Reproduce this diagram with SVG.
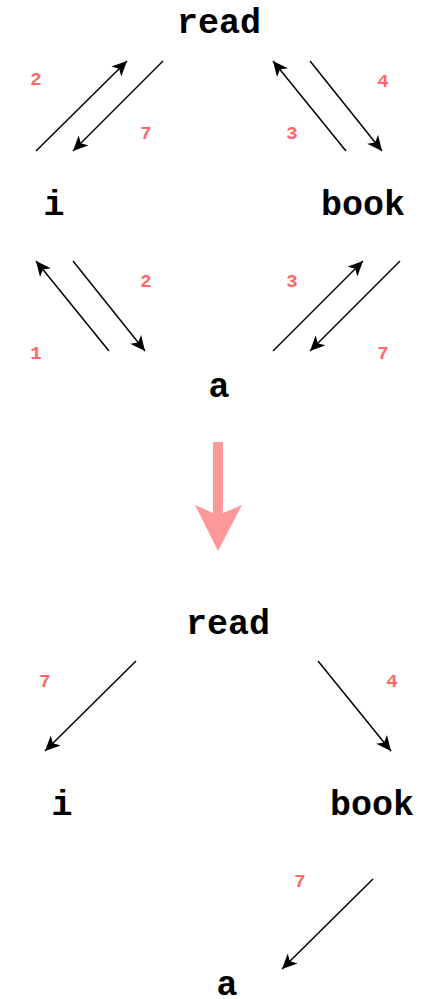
<svg xmlns="http://www.w3.org/2000/svg" width="422" height="999" viewBox="0 0 422 999">
<style>
.n{font-family:"Liberation Mono","Courier New",monospace;font-weight:bold;font-size:35px;fill:#000;text-anchor:middle}
.w{font-family:"Liberation Mono","Courier New",monospace;font-weight:bold;font-size:19px;fill:#ff6666;text-anchor:middle}
.e{stroke:#000;stroke-width:1.5;fill:none;marker-end:url(#ah)}
</style>
<defs>
<marker id="ah" markerUnits="userSpaceOnUse" markerWidth="16" markerHeight="14" viewBox="0 0 16 14" refX="15" refY="7" orient="auto">
<path d="M0,0 L15,7 L0,14 L4,7 z" fill="#000"/>
</marker>
</defs>
<rect width="422" height="999" fill="#fff"/>
<g id="top-read"><text class="n" x="219" y="33">read</text></g>
<g id="top-i"><text class="n" x="54" y="215">i</text></g>
<g id="top-book"><text class="n" x="363" y="215">book</text></g>
<g id="top-a"><text class="n" x="219" y="397">a</text></g>
<g id="bot-read"><text class="n" x="228" y="634">read</text></g>
<g id="bot-i"><text class="n" x="62" y="815">i</text></g>
<g id="bot-book"><text class="n" x="372" y="815">book</text></g>
<g id="bot-a"><text class="n" x="227" y="995">a</text></g>
<g id="connectors">
<line class="e" x1="36" y1="151" x2="127" y2="61"/>
<line class="e" x1="163" y1="61" x2="73" y2="151"/>
<line class="e" x1="346" y1="151" x2="273" y2="61"/>
<line class="e" x1="310" y1="61" x2="382" y2="151"/>
<line class="e" x1="109" y1="351" x2="36" y2="261"/>
<line class="e" x1="73" y1="261" x2="145" y2="351"/>
<line class="e" x1="273" y1="351" x2="363" y2="261"/>
<line class="e" x1="400" y1="261" x2="310" y2="351"/>
<line class="e" x1="136" y1="661" x2="45" y2="751"/>
<line class="e" x1="318" y1="661" x2="391" y2="751"/>
<line class="e" x1="373" y1="879" x2="282" y2="969"/>
</g>
<g id="labels">
<text class="w" x="36" y="85">2</text>
<text class="w" x="146" y="139">7</text>
<text class="w" x="292" y="139">3</text>
<text class="w" x="383" y="87">4</text>
<text class="w" x="146" y="287">2</text>
<text class="w" x="292" y="287">3</text>
<text class="w" x="36" y="359">1</text>
<text class="w" x="383" y="359">7</text>
<text class="w" x="45" y="687">7</text>
<text class="w" x="392" y="687">4</text>
<text class="w" x="300" y="887">7</text>
</g>
<g id="transform-arrow">
<path d="M213,442 L223,442 L223,513 L242,505 L218,551 L195,505 L213,513 z" fill="#ff9999"/>
</g>
</svg>
